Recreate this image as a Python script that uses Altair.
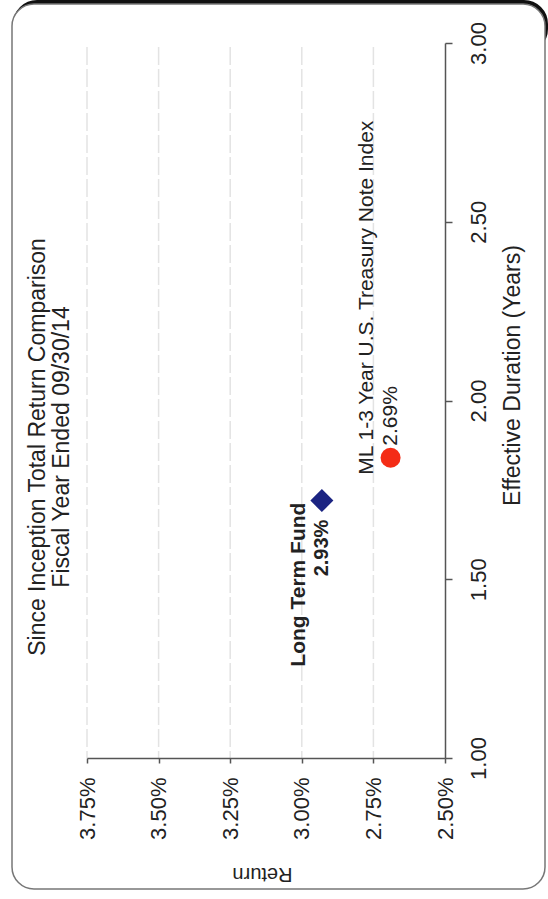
import altair as alt
import pandas as pd

# Fund vs. benchmark: since-inception total return against effective duration
names = ["Long Term Fund", "ML 1-3 Year U.S. Treasury Note Index"]
returns = [2.93, 2.69]          # percent
durations = [1.72, 1.84]        # years
return_ticks = [2.50, 2.75, 3.00, 3.25, 3.50, 3.75]
duration_ticks = [1.00, 1.50, 2.00, 2.50, 3.00]
title_lines = ["Since Inception Total Return Comparison", "Fiscal Year Ended 09/30/14"]

df = pd.DataFrame({
    "name": names,
    "ret": returns,
    "dur": durations,
    "pct": [f"{r:.2f}%" for r in returns],
})
grid_df = pd.DataFrame({"ret": return_ticks[1:]})

FONT = "Liberation Sans"
INK = "#222222"
W, H = 358, 715

one = alt.Chart(pd.DataFrame({"k": [0]}))

# rounded border of the exhibit, with a darker edge along the top
frame_shadow = one.mark_rect(
    fill="white", stroke="#111111", strokeWidth=4, cornerRadius=22
).encode(x=alt.value(-72), x2=alt.value(459), y=alt.value(-41), y2=alt.value(8))
frame = one.mark_rect(
    fill="white", stroke="#777777", strokeWidth=1.5, cornerRadius=22
).encode(x=alt.value(-75), x2=alt.value(458), y=alt.value(-39), y2=alt.value(846))

title1 = one.mark_text(
    angle=270, align="center", baseline="middle", font=FONT, fontSize=23, color=INK
).encode(x=alt.value(-49), y=alt.value(404), text=alt.value(title_lines[0]))
title2 = one.mark_text(
    angle=270, align="center", baseline="middle", font=FONT, fontSize=23, color=INK
).encode(x=alt.value(-25), y=alt.value(404), text=alt.value(title_lines[1]))

x_scale = alt.Scale(domain=[2.5, 3.75], reverse=True, nice=False, zero=False)

x_enc = alt.X(
    "ret:Q",
    scale=x_scale,
    axis=alt.Axis(
        orient="bottom", values=return_ticks,
        labelExpr="format(datum.value, '.2f') + '%'",
        labelAngle=270, labelAlign="right", labelBaseline="middle",
        labelPadding=14, labelFlush=False, labelOverlap=False,
        labelFont=FONT, labelFontSize=22, labelColor=INK,
        tickSize=5, tickColor="#555555", tickWidth=1.5,
        domainColor="#555555", domainWidth=1.5, grid=False,
        title="Return", titleAngle=180, titleFont=FONT, titleFontSize=20,
        titleFontWeight="normal", titleColor=INK,
        titleAlign="center", titleBaseline="middle", titleX=175, titleY=115,
        zindex=1,
    ),
)
y_enc = alt.Y(
    "dur:Q",
    scale=alt.Scale(domain=[1, 3], nice=False, zero=False),
    axis=alt.Axis(
        orient="right", values=duration_ticks, format=".2f",
        labelAngle=270, labelAlign="center", labelBaseline="top",
        labelPadding=16, labelFlush=False, labelOverlap=False,
        labelFont=FONT, labelFontSize=22, labelColor=INK,
        tickSize=7, tickColor="#555555", tickWidth=1.5,
        domainColor="#555555", domainWidth=1.5, grid=False,
        title="Effective Duration (Years)", titleAngle=270, titleFont=FONT,
        titleFontSize=23, titleFontWeight="normal", titleColor=INK,
        titleAlign="center", titleBaseline="middle", titleX=67, titleY=332,
        zindex=1,
    ),
)

# faint dashed return gridlines, kept beneath the markers and labels
grid = alt.Chart(grid_df).mark_rule(
    color="#e3e3e3", strokeWidth=1.5, strokeDash=[18, 4]
).encode(x=alt.X("ret:Q", scale=x_scale), y=alt.value(4), y2=alt.value(H))

base = alt.Chart(df).encode(x=x_enc, y=y_enc)

points = base.mark_point(filled=True, opacity=1, strokeWidth=0).encode(
    shape=alt.Shape("name:N", scale=alt.Scale(domain=names, range=["diamond", "circle"]), legend=None),
    color=alt.Color("name:N", scale=alt.Scale(domain=names, range=["#1b2482", "#f42c16"]), legend=None),
    size=alt.Size("name:N", scale=alt.Scale(domain=names, range=[529, 400]), legend=None),
)

fund = base.transform_filter(alt.datum.name == names[0])
bench = base.transform_filter(alt.datum.name == names[1])

fund_name = fund.mark_text(
    angle=270, align="right", baseline="middle", font=FONT, fontSize=21,
    fontWeight="bold", color=INK, dx=-2, dy=-23,
).encode(text="name:N")
fund_pct = fund.mark_text(
    angle=270, align="right", baseline="middle", font=FONT, fontSize=20,
    fontWeight="bold", color=INK, dx=-19, dy=0,
).encode(text="pct:N")
bench_name = bench.mark_text(
    angle=270, align="left", baseline="middle", font=FONT, fontSize=21,
    color=INK, dx=-17, dy=-24,
).encode(text="name:N")
bench_pct = bench.mark_text(
    angle=270, align="left", baseline="middle", font=FONT, fontSize=21,
    color=INK, dx=12, dy=0,
).encode(text="pct:N")

chart = alt.layer(
    frame_shadow, frame, title1, title2, grid,
    points, fund_name, fund_pct, bench_name, bench_pct,
).properties(
    width=W, height=H,
    autosize=alt.AutoSizeParams(type="none"),
    padding={"left": 87, "top": 43, "right": 548 - 87 - W, "bottom": 899 - 43 - H},
    background="white",
).configure_view(stroke=None)

chart.save("out.html", embed_options={"renderer": "svg", "actions": False})
